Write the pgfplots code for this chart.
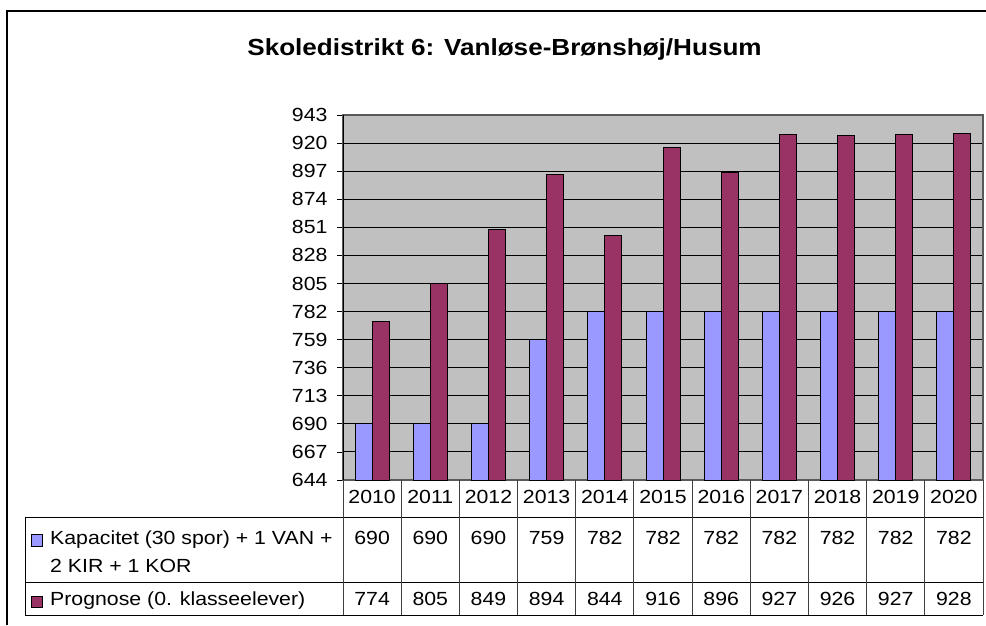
\documentclass[border=0pt]{standalone}
\usepackage{fontspec}
\setmainfont{Liberation Sans}[FakeStretch=1.12]
\usepackage{pgfplots}
\pgfplotsset{compat=1.18}
\definecolor{plotbg}{RGB}{192,192,192}
\definecolor{kap}{RGB}{153,153,255}
\definecolor{prog}{RGB}{153,51,102}
\begin{document}
\begin{tikzpicture}[x=1pt,y=1pt]
\useasboundingbox (0,0) rectangle (986,-625);
\fill[white] (0,0) rectangle (986,-625);
\begin{axis}[
 at={(343pt,-480pt)}, anchor=south west,
 scale only axis, width=640pt, height=365pt,
 xmin=-0.5, xmax=10.5, ymin=644, ymax=943,
 ytick={644,667,...,943},
 xtick=\empty,
 ytick pos=left,
 ybar=0pt, bar width=17pt,
 axis background/.style={fill=plotbg},
 ymajorgrids, grid style={black, line width=1.1pt},
 axis line style={draw=gray!70!black, line width=1.2pt},
 tick align=outside, major tick length=6pt, tick style={black, line width=0.8pt},
 yticklabel style={font=\fontsize{19}{21}\selectfont, xshift=-6pt},
 /pgf/number format/assume math mode=true,
 /pgf/number format/1000 sep={},
 /pgf/number format/fixed,
 enlargelimits=false,
]
\addplot[fill=kap, draw=black, line width=1pt] coordinates {(0,690) (1,690) (2,690) (3,759) (4,782) (5,782) (6,782) (7,782) (8,782) (9,782) (10,782)};
\addplot[fill=prog, draw=black, line width=1pt] coordinates {(0,774) (1,805) (2,849) (3,894) (4,844) (5,916) (6,896) (7,927) (8,926) (9,927) (10,928)};
\end{axis}
% frame
\draw[line width=1.5pt] (7,-625) -- (7,-11) -- (986,-11);
% title
\node[anchor=base, font=\bfseries\fontsize{23.3}{26}\selectfont, inner sep=0pt] at (504.5,-55) {Skoledistrikt 6: Vanløse-Brønshøj/Husum};
% data table
\draw[line width=1pt] (343,-115) -- (343,-480);
\draw[line width=1pt] (25,-517) -- (983,-517);
\draw[line width=1pt] (25,-582) -- (983,-582);
\draw[line width=1pt] (25,-615) -- (983,-615);
\draw[line width=1pt] (25,-517) -- (25,-615);
\foreach \k in {0,...,11} \draw[line width=1pt, black!75] (343+58.1818*\k,-480) -- (343+58.1818*\k,-615);
\begin{scope}[every node/.style={font=\fontsize{19}{21}\selectfont, inner sep=0pt}]
\foreach \y [count=\i from 0] in {2010,2011,2012,2013,2014,2015,2016,2017,2018,2019,2020}
  \node[anchor=base] at (372.09+58.1818*\i,-503) {\y};
\foreach \v [count=\i from 0] in {690,690,690,759,782,782,782,782,782,782,782}
  \node[anchor=base] at (372.09+58.1818*\i,-544) {\v};
\foreach \v [count=\i from 0] in {774,805,849,894,844,916,896,927,926,927,928}
  \node[anchor=base] at (372.09+58.1818*\i,-605) {\v};
\node[anchor=base west] at (50,-544) {Kapacitet (30 spor) + 1 VAN +};
\node[anchor=base west] at (50,-572.5) {2 KIR + 1 KOR};
\node[anchor=base west] at (50,-605) {Prognose (0. klasseelever)};
\end{scope}
\draw[fill=kap, line width=0.8pt] (31,-534) rectangle (42,-546);
\draw[fill=prog, line width=0.8pt] (31,-596) rectangle (42,-607);
\end{tikzpicture}
\end{document}
